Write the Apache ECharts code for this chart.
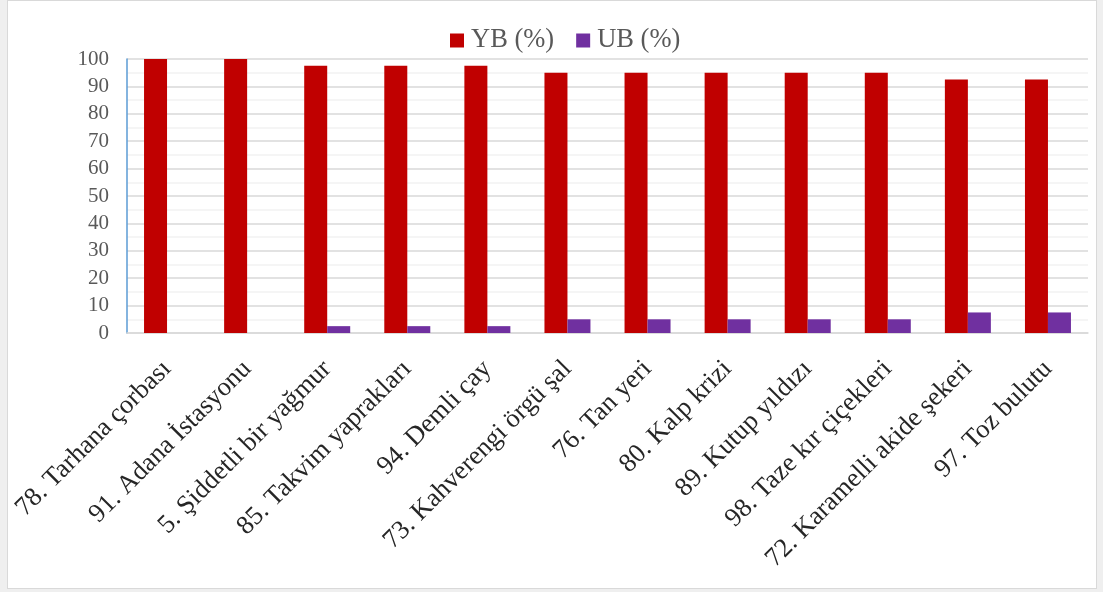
<!DOCTYPE html>
<html>
<head>
<meta charset="utf-8">
<script src="https://cdn.jsdelivr.net/npm/echarts@6/dist/echarts.min.js"></script>
<style>
  html, body { margin: 0; padding: 0; background: #efefef; }
  #frame { position: absolute; left: 7px; top: 0; width: 1090px; height: 589px;
           background: #ffffff; border: 1px solid #d9d9d9; box-sizing: border-box; }
  #chart { position: absolute; left: 0; top: 0; width: 1103px; height: 592px; }
</style>
</head>
<body>
<div id="frame"></div>
<div id="chart"></div>
<script>
// Items, in order of YB percentage
const categories = [
  '78. Tarhana çorbası', '91. Adana İstasyonu', '5. Şiddetli bir yağmur',
  '85. Takvim yaprakları', '94. Demli çay', '73. Kahverengi örgü şal',
  '76. Tan yeri', '80. Kalp krizi', '89. Kutup yıldızı',
  '98. Taze kır çiçekleri', '72. Karamelli akide şekeri', '97. Toz bulutu'
];
const ybValues = [100, 100, 97.5, 97.5, 97.5, 95, 95, 95, 95, 95, 92.5, 92.5];
const ubValues = [0, 0, 2.5, 2.5, 2.5, 5, 5, 5, 5, 5, 7.5, 7.5];
const seriesNames = ['YB (%)', 'UB (%)'];

const serif = '"Liberation Serif", "Times New Roman", serif';

const chart = echarts.init(document.getElementById('chart'), null, { renderer: 'canvas' });
chart.setOption({
  backgroundColor: 'transparent',
  animation: false,
  textStyle: { fontFamily: serif },
  legend: {
    top: 22,
    left: 445,
    itemWidth: 14,
    itemHeight: 14,
    itemGap: 22,
    icon: 'rect',
    textStyle: { fontFamily: serif, fontSize: 26.5, color: '#595959', padding: [0, 0, 0, 2] },
    data: seriesNames
  },
  grid: { left: 127, right: 15, top: 59, bottom: 259, containLabel: false },
  xAxis: {
    type: 'category',
    data: categories,
    axisLine: { show: true, lineStyle: { color: '#d9d9d9', width: 1.5 } },
    axisTick: { show: false },
    axisLabel: {
      rotate: 45,
      interval: 0,
      margin: 32,
      fontFamily: serif,
      fontSize: 26.5,
      color: '#262626'
    }
  },
  yAxis: {
    type: 'value',
    min: 0,
    max: 100,
    interval: 10,
    axisLine: { show: true, lineStyle: { color: '#5b9bd5', width: 1.5 } },
    axisTick: { show: false },
    axisLabel: { fontFamily: serif, fontSize: 21, color: '#595959', margin: 18 },
    splitLine: { show: true, lineStyle: { color: '#d9d9d9', width: 1.5 } },
    minorTick: { show: false, splitNumber: 2 },
    minorSplitLine: { show: true, lineStyle: { color: '#f2f2f2', width: 1.5 } }
  },
  series: [
    {
      name: seriesNames[0],
      type: 'bar',
      data: ybValues,
      barWidth: 23,
      barGap: '0%',
      itemStyle: { color: '#c00000' }
    },
    {
      name: seriesNames[1],
      type: 'bar',
      data: ubValues,
      barWidth: 23,
      barGap: '0%',
      itemStyle: { color: '#7030a0' }
    }
  ]
});
</script>
</body>
</html>
